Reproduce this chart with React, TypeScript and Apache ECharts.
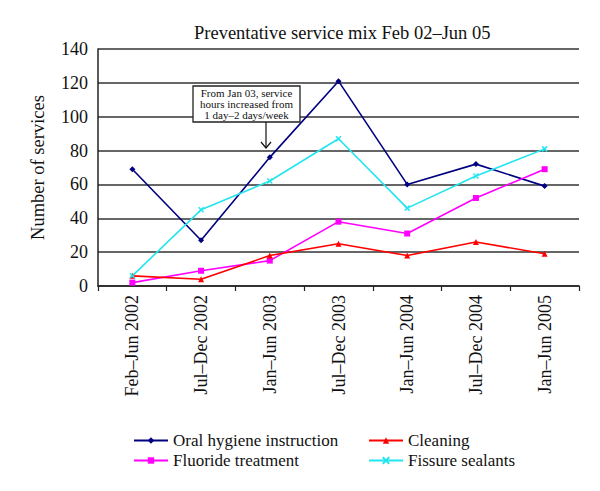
import React, { useEffect, useRef } from "react";
import * as echarts from "echarts";

const categories = [
  "Feb\u2013Jun 2002",
  "Jul\u2013Dec 2002",
  "Jan\u2013Jun 2003",
  "Jul\u2013Dec 2003",
  "Jan\u2013Jun 2004",
  "Jul\u2013Dec 2004",
  "Jan\u2013Jun 2005",
];
const oralHygiene = [69, 27, 76, 121, 60, 72, 59];
const fluoride = [2, 9, 15, 38, 31, 52, 69];
const cleaning = [6, 4, 18, 25, 18, 26, 19];
const fissure = [6, 45, 62, 87, 46, 65, 81];

const FONT = "'Liberation Serif', 'DejaVu Serif', serif";

export default function App() {
  const ref = useRef<HTMLDivElement>(null);
  useEffect(() => {
    document.body.style.margin = "0";
    const chart = echarts.init(ref.current!, null, { renderer: "svg" });
    const xSym = "path://M0,0 L10,10 M10,0 L0,10";
    const mk = (name: string, data: number[], color: string, symbol: string, size: number) => ({
      name,
      type: "line",
      data,
      symbol,
      symbolSize: size,
      showSymbol: true,
      lineStyle: { color, width: 1.6 },
      itemStyle: { color, borderColor: color, borderWidth: symbol === xSym ? 1.5 : 0 },
    });
    const legendText = { fontFamily: FONT, fontSize: 17, color: "#111" };
    chart.setOption({
      animation: false,
      textStyle: { fontFamily: FONT },
      title: {
        text: "Preventative service mix Feb 02\u2013Jun 05",
        left: 189,
        top: 18,
        textStyle: { fontFamily: FONT, fontSize: 18.5, fontWeight: "normal", color: "#111" },
      },
      grid: { left: 98, right: 21, top: 49, bottom: 205 },
      xAxis: {
        type: "category",
        data: categories,
        boundaryGap: true,
        axisLine: { lineStyle: { color: "#222", width: 1.5 } },
        axisTick: { show: true, length: 5, lineStyle: { color: "#222", width: 1.2 } },
        axisLabel: { rotate: 90, fontFamily: FONT, fontSize: 18, color: "#111", margin: 9 },
      },
      yAxis: {
        type: "value",
        min: 0,
        max: 140,
        interval: 20,
        name: "Number of services",
        nameLocation: "middle",
        nameGap: 51,
        nameTextStyle: { fontFamily: FONT, fontSize: 18.5, color: "#111" },
        axisLine: { show: true, lineStyle: { color: "#222", width: 1.5 } },
        axisTick: { show: false },
        splitLine: { lineStyle: { color: "#333", width: 1.5 } },
        axisLabel: { fontFamily: FONT, fontSize: 18, color: "#111", margin: 10 },
      },
      legend: [
        {
          orient: "vertical",
          left: 128,
          top: 427,
          itemWidth: 34,
          itemHeight: 8,
          itemGap: 3,
          data: ["Oral hygiene instruction", "Fluoride treatment"],
          textStyle: legendText,
        },
        {
          orient: "vertical",
          left: 363,
          top: 427,
          itemWidth: 34,
          itemHeight: 8,
          itemGap: 3,
          data: ["Cleaning", "Fissure sealants"],
          textStyle: legendText,
        },
      ],
      graphic: [
        {
          type: "rect",
          shape: { x: 193, y: 86, width: 107, height: 36 },
          style: { fill: "#fff", stroke: "#222", lineWidth: 1.3 },
          z: 100,
        },
        {
          type: "text",
          x: 246.5,
          y: 87,
          style: {
            text: "From Jan 03, service\nhours increased from\n1 day\u20132 days/week",
            fontFamily: FONT,
            fontSize: 11,
            lineHeight: 11,
            fill: "#111",
            align: "center",
            verticalAlign: "top",
          },
          z: 101,
        },
        {
          type: "line",
          shape: { x1: 266, y1: 122, x2: 266, y2: 148 },
          style: { stroke: "#111", lineWidth: 1.2 },
          z: 100,
        },
        {
          type: "polyline",
          shape: { points: [[261, 142], [266, 148], [271, 142]] },
          style: { stroke: "#111", lineWidth: 1.2, fill: "none" },
          z: 100,
        },
      ],
      series: [
        mk("Oral hygiene instruction", oralHygiene, "#000080", "diamond", 6),
        mk("Fluoride treatment", fluoride, "#FF00FF", "rect", 6),
        mk("Cleaning", cleaning, "#FF0000", "triangle", 6),
        mk("Fissure sealants", fissure, "#22E5F0", xSym, 5),
      ],
    });
    return () => chart.dispose();
  }, []);
  return <div ref={ref} style={{ width: 600, height: 491 }} />;
}
